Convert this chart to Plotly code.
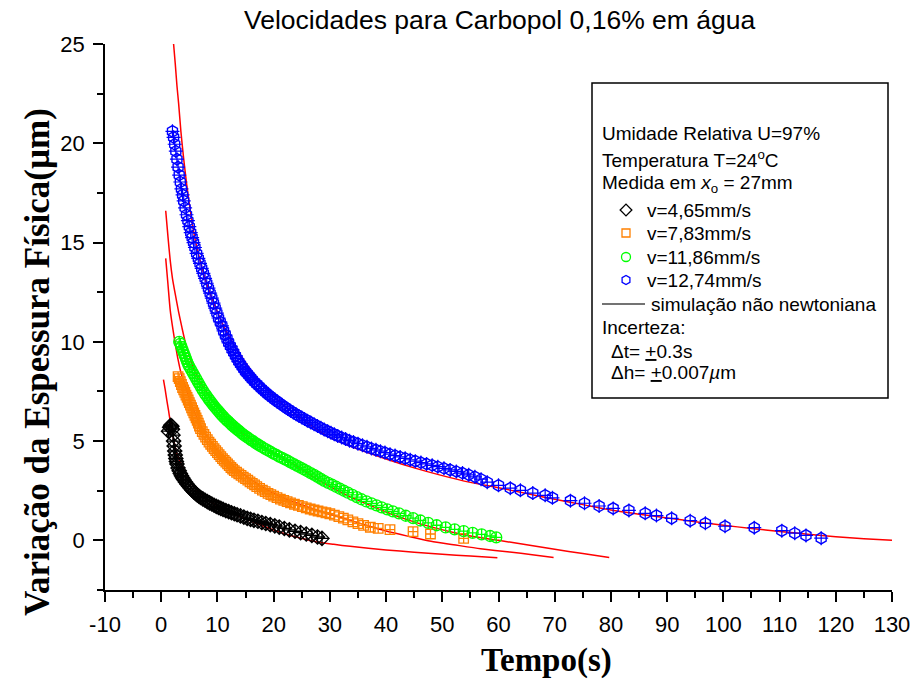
import plotly.graph_objects as go

# ---------------- data ----------------
blue_t = [2.0,2.2,2.4,2.6,2.8,3.0,3.2,3.4,3.6,3.8,4.0,4.25,4.5,4.75,5.0,5.25,5.5,5.75,6.0,6.3,6.6,6.9,7.2,7.5,7.8,8.1,8.4,8.7,9.0,9.3,9.6,9.9,10.2,10.5,10.8,11.1,11.4,11.7,12.0,12.3,12.6,12.9,13.2,13.5,13.8,14.1,14.4,14.7,15.0,15.3,15.6,15.9,16.2,16.6,17.0,17.4,17.8,18.2,18.6,19.0,19.4,19.8,20.2,20.6,21.0,21.5,22.0,22.5,23.0,23.5,24.0,24.5,25.0,25.5,26.0,26.6,27.2,27.8,28.4,29.0,29.6,30.2,30.8,31.4,32.1,32.8,33.5,34.2,35.0,35.8,36.6,37.4,38.2,39.0,39.8,40.7,41.6,42.5,43.4,44.3,45.2,46.2,47.2,48.2,49.2,50.3,51.4,52.5,53.6,54.7,55.8,56.9,58.0,60.0,62.1,63.9,66.1,68.3,69.6,72.8,75.3,77.9,80.4,83.2,86.1,88.1,90.8,94.1,96.8,100.3,105.5,110.4,112.7,114.7,117.4]
blue_h = [20.6,20.3,19.95,19.6,19.2,18.8,18.4,18.05,17.7,17.4,17.1,16.75,16.4,16.1,15.8,15.5,15.25,15.0,14.75,14.45,14.2,13.95,13.7,13.45,13.2,12.95,12.7,12.45,12.2,11.95,11.7,11.45,11.2,11.0,10.8,10.55,10.35,10.15,9.95,9.78,9.62,9.46,9.3,9.15,9.0,8.87,8.74,8.62,8.5,8.4,8.3,8.2,8.1,7.98,7.87,7.76,7.65,7.55,7.45,7.35,7.26,7.17,7.08,7.0,6.92,6.82,6.72,6.62,6.53,6.44,6.35,6.27,6.19,6.11,6.03,5.94,5.85,5.76,5.67,5.58,5.5,5.42,5.34,5.26,5.18,5.1,5.02,4.95,4.87,4.79,4.71,4.63,4.56,4.49,4.42,4.34,4.27,4.2,4.13,4.06,3.99,3.92,3.85,3.78,3.71,3.63,3.55,3.47,3.39,3.3,3.2,3.08,2.93,2.77,2.63,2.52,2.38,2.27,2.14,2.0,1.87,1.73,1.61,1.51,1.36,1.25,1.11,0.99,0.86,0.71,0.64,0.49,0.36,0.25,0.11]

green_t = [3.2,3.4,3.6,3.8,4.0,4.2,4.4,4.6,4.8,5.0,5.3,5.6,5.9,6.2,6.5,6.8,7.1,7.4,7.7,8.0,8.3,8.6,8.9,9.2,9.5,9.8,10.1,10.4,10.7,11.0,11.3,11.6,11.9,12.2,12.5,12.8,13.1,13.4,13.7,14.0,14.4,14.8,15.2,15.6,16.0,16.4,16.8,17.2,17.6,18.0,18.5,19.0,19.5,20.0,20.5,21.0,21.5,22.0,22.5,23.0,23.6,24.2,24.8,25.4,26.0,26.6,27.2,27.8,28.4,29.0,29.7,30.4,31.1,31.8,32.5,33.2,34.0,34.8,35.6,36.5,37.4,38.3,39.2,40.2,41.2,42.3,43.5,44.8,46.1,47.5,49.0,50.6,52.2,53.8,55.4,57.0,58.5,59.6]
green_h = [10.0,9.9,9.75,9.6,9.45,9.3,9.15,9.0,8.87,8.75,8.6,8.45,8.3,8.15,8.0,7.85,7.7,7.56,7.42,7.3,7.18,7.06,6.95,6.84,6.73,6.63,6.53,6.43,6.33,6.24,6.15,6.07,5.99,5.91,5.83,5.75,5.68,5.61,5.54,5.47,5.38,5.29,5.21,5.13,5.05,4.98,4.9,4.83,4.76,4.69,4.61,4.53,4.45,4.37,4.3,4.22,4.15,4.08,4.01,3.93,3.84,3.75,3.66,3.57,3.48,3.39,3.3,3.2,3.1,3.0,2.9,2.8,2.7,2.6,2.5,2.4,2.29,2.18,2.07,1.96,1.86,1.76,1.66,1.56,1.46,1.36,1.24,1.12,1.0,0.88,0.76,0.65,0.55,0.47,0.38,0.3,0.22,0.15]

orange_t = [3.0,3.2,3.4,3.6,3.8,4.0,4.2,4.4,4.6,4.8,5.0,5.2,5.4,5.6,5.8,6.0,6.2,6.4,6.6,6.8,7.0,7.3,7.6,7.9,8.2,8.5,8.8,9.1,9.4,9.7,10.0,10.3,10.6,10.9,11.2,11.5,11.8,12.1,12.4,12.7,13.0,13.4,13.8,14.2,14.6,15.0,15.4,15.8,16.2,16.6,17.0,17.5,18.0,18.5,19.0,19.5,20.0,20.6,21.2,21.8,22.4,23.0,23.7,24.4,25.1,25.8,26.5,27.2,27.9,28.6,29.3,30.0,30.8,31.6,32.4,33.2,34.1,35.0,36.0,37.2,38.6,40.7,44.8,47.9,53.8]
orange_h = [8.25,8.15,8.0,7.85,7.7,7.58,7.45,7.32,7.2,7.07,6.94,6.81,6.68,6.55,6.42,6.3,6.17,6.04,5.9,5.76,5.63,5.48,5.34,5.2,5.07,4.95,4.84,4.73,4.62,4.52,4.42,4.32,4.22,4.12,4.03,3.94,3.85,3.76,3.67,3.59,3.51,3.43,3.35,3.27,3.19,3.11,3.03,2.95,2.87,2.79,2.71,2.62,2.53,2.45,2.37,2.3,2.23,2.15,2.08,2.01,1.95,1.89,1.82,1.76,1.7,1.64,1.58,1.53,1.48,1.43,1.39,1.34,1.27,1.2,1.12,1.03,0.93,0.84,0.75,0.66,0.6,0.54,0.44,0.32,0.1]

black_t = [1.3,1.5,1.7,1.9,2.0,2.1,2.2,2.3,2.4,2.5,2.6,2.7,2.8,3.0,3.2,3.4,3.6,3.8,4.0,4.3,4.6,4.9,5.2,5.5,5.8,6.1,6.4,6.7,7.0,7.4,7.8,8.2,8.6,9.0,9.4,9.8,10.2,10.6,11.0,11.5,12.0,12.5,13.0,13.5,14.1,14.7,15.3,15.9,16.5,17.2,17.9,18.6,19.4,20.2,21.0,21.9,22.8,23.8,24.8,25.8,26.8,27.8,28.6]
black_h = [5.5,5.7,5.8,5.75,5.6,5.3,5.0,4.75,4.5,4.3,4.12,3.97,3.85,3.65,3.5,3.37,3.25,3.15,3.06,2.94,2.83,2.72,2.62,2.53,2.44,2.36,2.29,2.22,2.16,2.09,2.02,1.95,1.89,1.83,1.77,1.71,1.66,1.61,1.56,1.5,1.45,1.39,1.34,1.29,1.23,1.17,1.11,1.06,1.01,0.96,0.9,0.85,0.79,0.73,0.67,0.6,0.53,0.46,0.39,0.32,0.25,0.17,0.1]

# non-newtonian simulation curves
sim_blue_t = [2.2,2.5,2.8,3.1,3.5,4.0,4.5,5.0,5.5,6.0,7.0,8.0,9.0,10.0,11.0,12.0,13.5,15.0,17.0,20.0,22.5,25.0,30.0,35.0,40.0,45.0,50.0,55.0,60.0,65.0,70.0,75.0,80.0,85.0,90.0,95.0,100.0,105.0,110.0,115.0,120.0,125.0,130.0]
sim_blue_h = [25.0,24.0,22.9,22.0,20.6,19.2,18.0,16.95,16.0,15.2,14.0,13.0,12.2,11.5,10.85,10.3,9.6,8.95,8.2,7.25,6.65,6.12,5.18,4.6,4.1,3.65,3.26,2.92,2.65,2.36,2.07,1.8,1.53,1.32,1.13,0.94,0.76,0.6,0.45,0.31,0.18,0.08,0.0]

sim_green_t = [0.8,1.2,1.6,2.0,2.5,3.1,3.7,4.3,5.0,6.0,7.0,8.5,10.0,11.7,14.0,17.6,20.0,23.5,27.0,30.0,33.0,36.0,40.0,44.0,48.0,52.0,56.0,60.0,65.0,70.0,75.0,79.7]
sim_green_h = [16.6,15.3,14.1,13.2,12.4,11.5,10.7,9.95,9.25,8.5,7.95,7.3,6.7,6.15,5.5,4.8,4.4,3.85,3.2,2.72,2.28,1.9,1.43,1.02,0.68,0.4,0.17,0.0,-0.22,-0.45,-0.66,-0.86]

sim_orange_t = [0.8,1.2,1.6,2.1,2.5,3.0,3.6,4.6,5.5,6.5,7.5,9.0,10.5,12.9,15.8,18.8,21.7,24.7,27.7,30.7,33.6,36.0,40.0,44.0,48.0,52.0,56.8,62.0,66.0,69.8]
sim_orange_h = [14.2,12.9,11.6,10.6,9.9,9.1,8.35,7.5,6.75,6.1,5.55,4.9,4.35,3.7,3.1,2.55,2.15,1.82,1.52,1.25,1.02,0.8,0.47,0.2,-0.05,-0.22,-0.42,-0.59,-0.72,-0.86]

sim_black_t = [0.4,0.7,1.0,1.3,1.6,1.9,2.3,2.8,3.4,4.5,5.75,7.5,9.3,12.0,15.8,18.8,21.8,24.7,27.7,30.7,33.6,40.0,45.0,50.0,55.0,59.8]
sim_black_h = [8.1,7.6,7.05,6.55,6.0,5.54,4.95,4.35,3.95,3.3,2.7,2.2,1.85,1.42,1.0,0.65,0.35,0.12,-0.08,-0.2,-0.3,-0.48,-0.6,-0.7,-0.79,-0.88]

series_labels = ["v=4,65mm/s", "v=7,83mm/s", "v=11,86mm/s", "v=12,74mm/s"]
x_ticks = list(range(-10, 131, 10))
x_ticktext = [str(v) for v in x_ticks]
y_ticks = [0, 5, 10, 15, 20, 25]

BLACK, ORANGE, GREEN, BLUE, RED = "#000000", "#FF8000", "#00FF00", "#0000FF", "#FF0000"
SANS = "Liberation Sans, Arial, sans-serif"
SERIF = "Liberation Serif, Times New Roman, serif"

fig = go.Figure()

# simulation curves
for t, h in [(sim_black_t, sim_black_h), (sim_orange_t, sim_orange_h),
             (sim_green_t, sim_green_h), (sim_blue_t, sim_blue_h)]:
    fig.add_trace(go.Scatter(x=t, y=h, mode="lines", line=dict(color=RED, width=1.5, shape="spline", smoothing=0.6),
                             showlegend=False, hoverinfo="skip"))

# measured data
fig.add_trace(go.Scatter(x=black_t, y=black_h, mode="markers", showlegend=False,
                         marker=dict(symbol="diamond-cross-open", size=11, color=BLACK, line=dict(width=1.3, color=BLACK))))
fig.add_trace(go.Scatter(x=orange_t, y=orange_h, mode="markers", showlegend=False,
                         marker=dict(symbol="square-cross-open", size=9.5, color=ORANGE, line=dict(width=1.3, color=ORANGE))))
fig.add_trace(go.Scatter(x=green_t, y=green_h, mode="markers", showlegend=False,
                         marker=dict(symbol="circle-cross-open", size=11, color=GREEN, line=dict(width=1.3, color=GREEN))))
fig.add_trace(go.Scatter(x=blue_t, y=blue_h, mode="markers", showlegend=False,
                         marker=dict(symbol="hexagon-open", size=11.5, color=BLUE, line=dict(width=1.4, color=BLUE))))
fig.add_trace(go.Scatter(x=blue_t, y=blue_h, mode="markers", showlegend=False, hoverinfo="skip",
                         marker=dict(symbol="cross-thin-open", size=10, color=BLUE, line=dict(width=1.2, color=BLUE))))

# ---------------- legend box (pixel-coordinate overlay axes) ----------------
leg_sym = [("diamond-open", BLACK, 9), ("square-open", ORANGE, 8), ("circle-open", GREEN, 9), ("hexagon-open", BLUE, 9)]
leg_y = [210, 233, 257, 280]
for (sym, col, sz), yy in zip(leg_sym, leg_y):
    fig.add_trace(go.Scatter(x=[626], y=[yy], xaxis="x2", yaxis="y2", mode="markers", showlegend=False,
                             hoverinfo="skip", marker=dict(symbol=sym, size=sz, color=col, line=dict(width=1.3, color=col))))
fig.add_trace(go.Scatter(x=[602, 645], y=[304, 304], xaxis="x2", yaxis="y2", mode="lines", showlegend=False,
                         hoverinfo="skip", line=dict(color="#444444", width=1.5)))

LF = 19
ann = []
def txt(x, y, s, size=LF, font=SANS, xa="left"):
    ann.append(dict(x=x, y=y, xref="x2", yref="y2", text=s, showarrow=False, xanchor=xa, yanchor="middle",
                    font=dict(family=font, size=size, color="black")))

txt(600, 133, "Umidade Relativa U=97%")
txt(600, 159, "Temperatura T=24<sup>o</sup>C")
txt(600, 184, "Medida em <i>x</i><sub>o</sub> = 27mm")
for lab, yy in zip(series_labels, leg_y):
    txt(645, yy, lab)
txt(649, 304, "simulação não newtoniana")
txt(600, 327, "Incerteza:")
txt(609, 351, "Δt= <u>+</u>0.3s")
txt(609, 372, "Δh= <u>+</u>0.007<i>µ</i>m")

# titles (paper coordinates: plot area spans x 105..892 px, y 44..590 px)
def px_to_paper(px, py):
    return (px - 105) / 787.0, (590 - py) / 546.0

tx, ty = px_to_paper(500, 20)
ann.append(dict(x=tx, y=ty, xref="paper", yref="paper", text="Velocidades para Carbopol 0,16% em água",
                showarrow=False, xanchor="center", yanchor="middle",
                font=dict(family=SANS, size=26.5, color="black")))
tx, ty = px_to_paper(546, 660)
ann.append(dict(x=tx, y=ty, xref="paper", yref="paper", text="<b>Tempo(s)</b>", showarrow=False,
                xanchor="center", yanchor="middle", font=dict(family=SERIF, size=33, color="black")))
tx, ty = px_to_paper(38, 362)
ann.append(dict(x=tx, y=ty, xref="paper", yref="paper", text="<b>Variação da Espessura Física(µm)</b>",
                showarrow=False, xanchor="center", yanchor="middle", textangle=-90,
                font=dict(family=SERIF, size=35, color="black")))

fig.update_layout(
    width=912, height=680, autosize=False,
    margin=dict(l=105, r=20, t=44, b=90, autoexpand=False),
    paper_bgcolor="white", plot_bgcolor="white",
    annotations=ann,
    shapes=[dict(type="rect", xref="x2", yref="y2", x0=592, x1=888, y0=83, y1=398,
                 line=dict(color="black", width=1.5), fillcolor="rgba(0,0,0,0)")],
    xaxis=dict(range=[-10, 130], tickvals=x_ticks, ticktext=x_ticktext, ticks="outside", ticklen=10, tickwidth=1.5,
               tickcolor="black", automargin=False,
               minor=dict(dtick=5, tick0=-10, ticks="outside", ticklen=6, tickwidth=1.5, tickcolor="black"),
               showline=True, linecolor="black", linewidth=1.6, showgrid=False, zeroline=False,
               tickfont=dict(family=SANS, size=22, color="black"), ticklabelstandoff=4),
    yaxis=dict(range=[-2.5, 25], tickvals=y_ticks, ticks="outside", ticklen=10, tickwidth=1.5, tickcolor="black",
               automargin=False,
               minor=dict(dtick=2.5, tick0=0, ticks="outside", ticklen=6, tickwidth=1.5, tickcolor="black"),
               showline=True, linecolor="black", linewidth=1.6, showgrid=False, zeroline=False,
               tickfont=dict(family=SANS, size=22, color="black"), ticklabelstandoff=4),
    xaxis2=dict(range=[105, 892], overlaying="x", anchor="y2", visible=False, fixedrange=True, automargin=False),
    yaxis2=dict(range=[590, 44], overlaying="y", anchor="x2", visible=False, fixedrange=True, automargin=False),
    showlegend=False,
)

fig.write_html("out.html")
